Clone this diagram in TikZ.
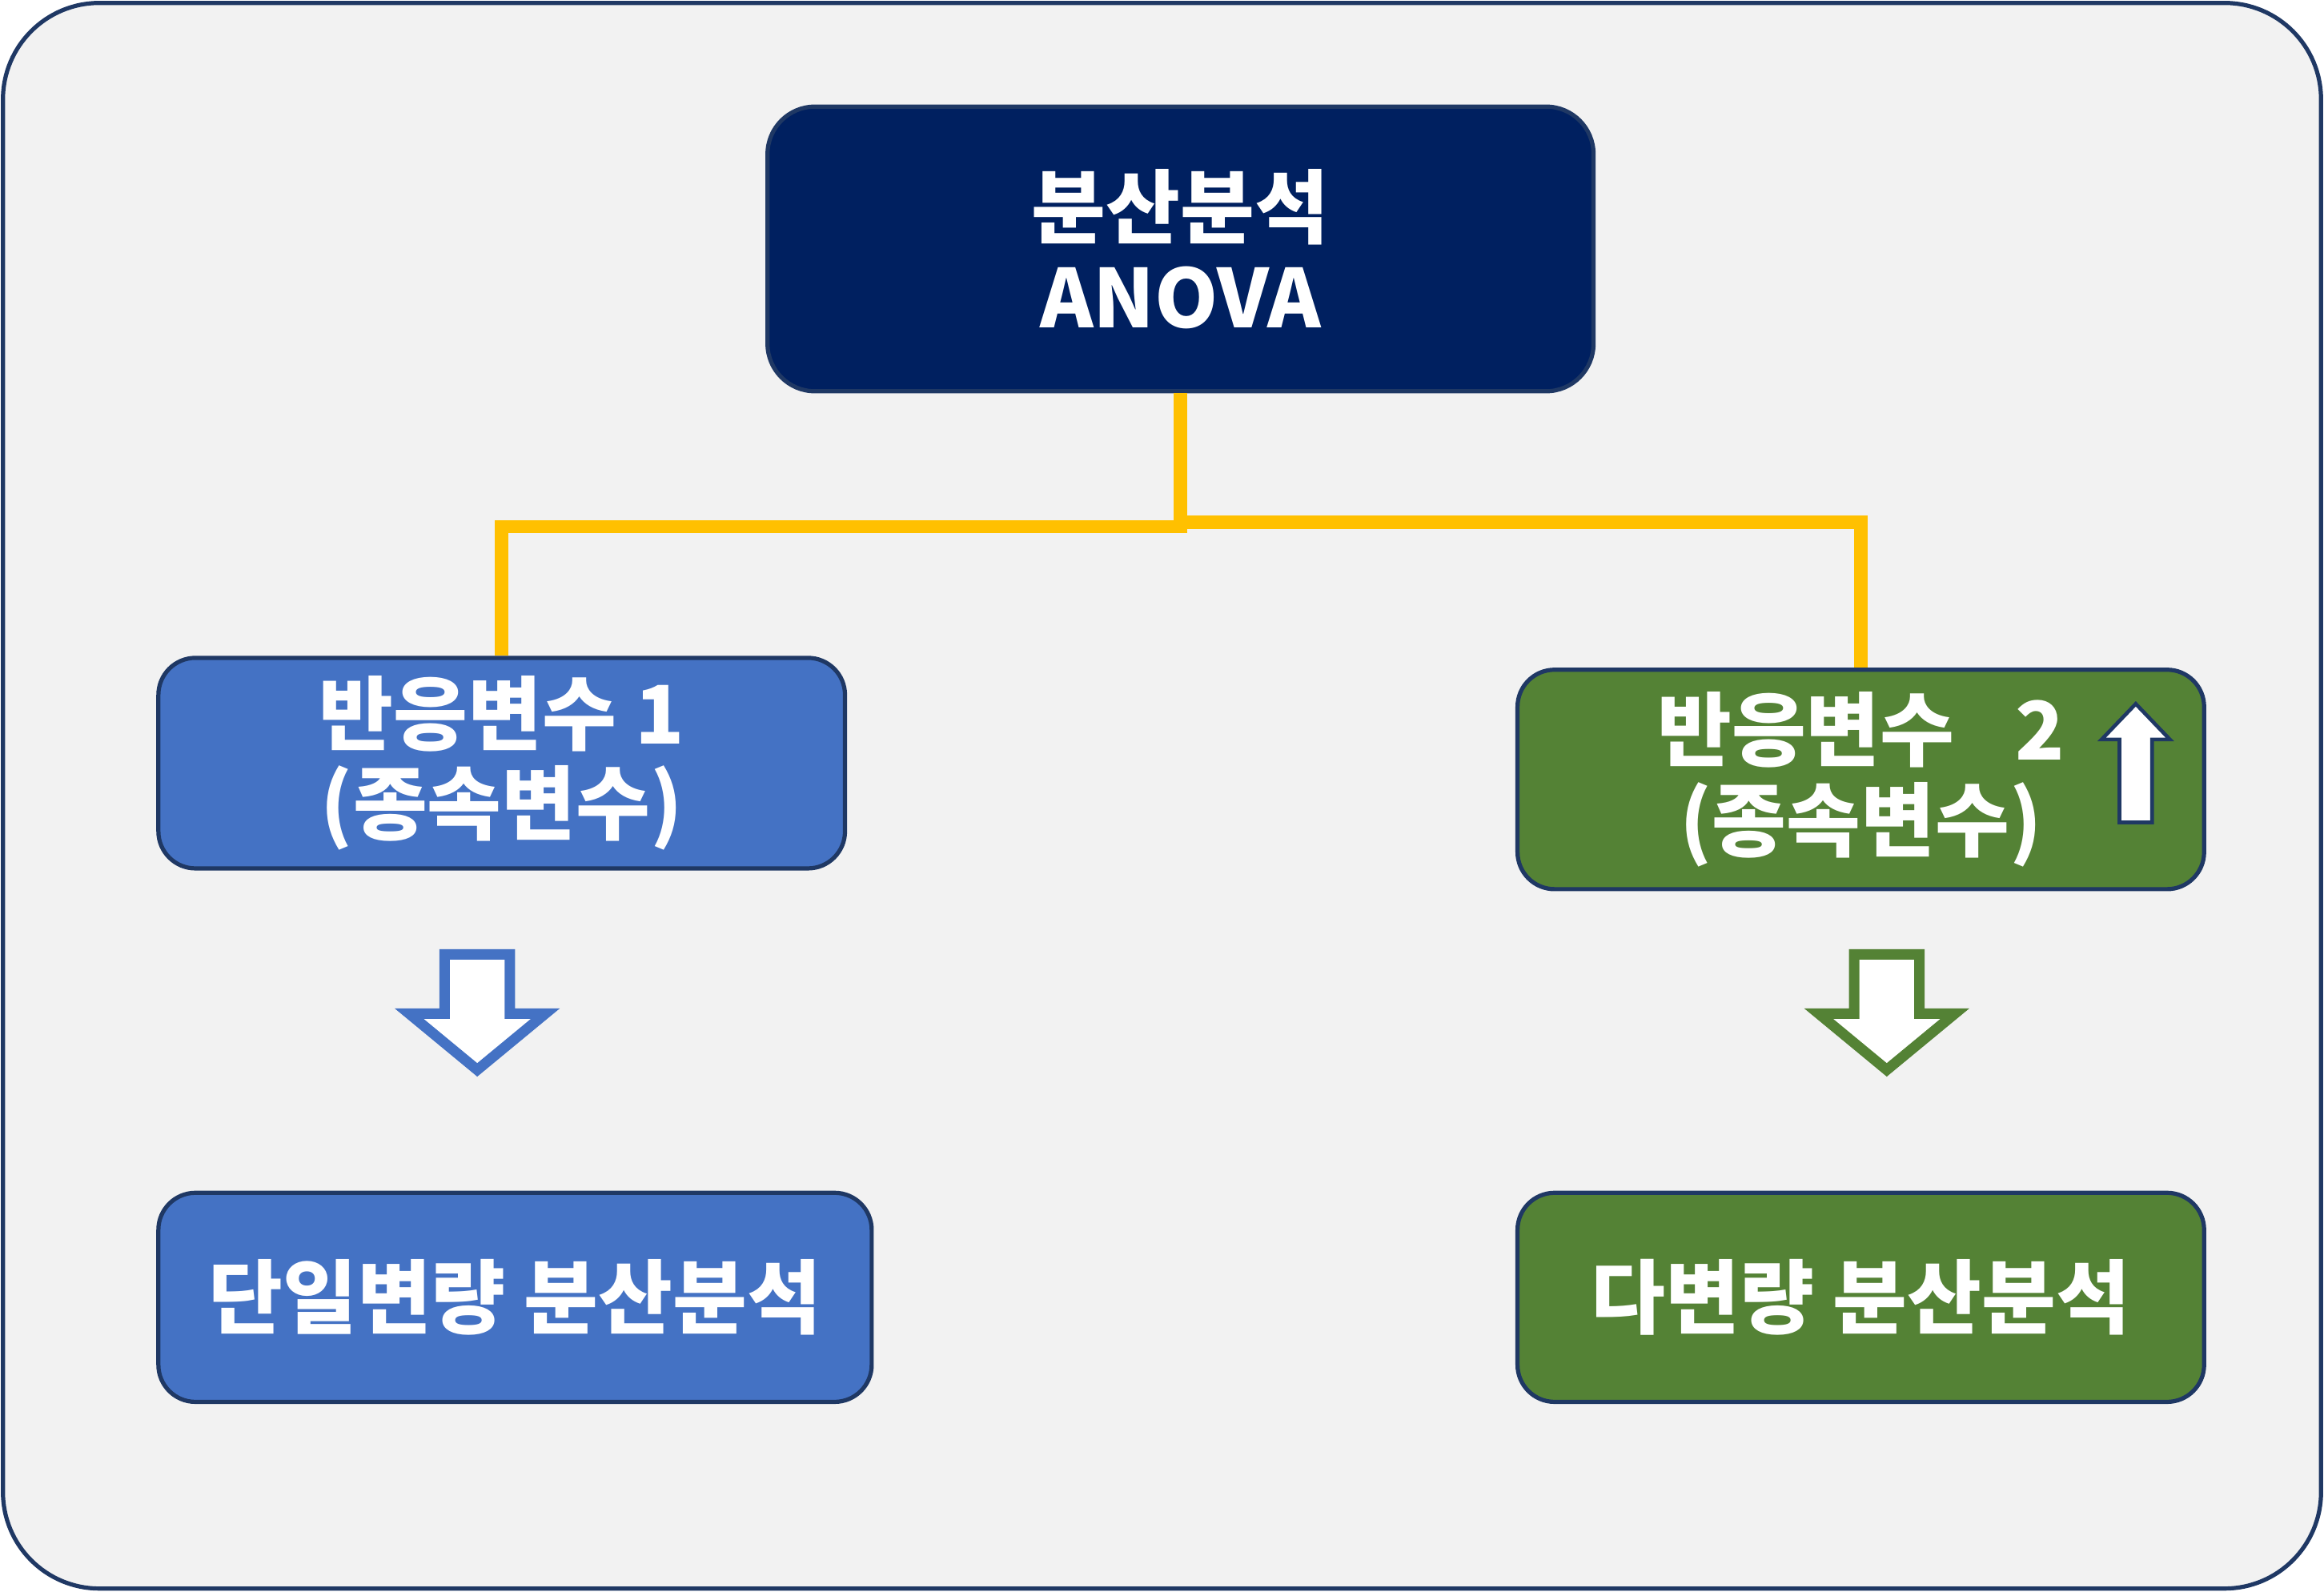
\documentclass[tikz,border=0pt]{standalone}
\usepackage{fontspec}
\usepackage{tikz}
\usetikzlibrary{calc}
\newfontfamily\kr{Noto Sans CJK KR}

\definecolor{navyfill}{HTML}{002060}
\definecolor{edgeblue}{HTML}{1F3864}
\definecolor{boxblue}{HTML}{4472C4}
\definecolor{boxgreen}{HTML}{548235}
\definecolor{lineyellow}{HTML}{FFC000}
\definecolor{bggray}{HTML}{F2F2F2}

\tikzset{
  box/.style={draw=edgeblue,line width=0.8pt,rounded corners=0.25cm,align=center,
    text=white,inner sep=0pt,font=\kr\bfseries\fontsize{15.5}{17.3}\selectfont},
  yline/.style={draw=lineyellow,line width=0.09cm},
  fatarrow/.style={fill=white,line width=0.07cm,line join=miter},
}

\begin{document}
\begin{tikzpicture}[>=latex,x=0.01cm,y=-0.01cm]
        \useasboundingbox (0,0) rectangle (1568,1074);
        \draw[edgeblue,fill=bggray,line width=0.8pt,rounded corners=0.65cm](2,2) rectangle (1566,1072);
        % boxes
        \node[box,fill=navyfill,rounded corners=0.32cm,minimum width=5.57cm,minimum height=1.92cm]
            (anova) at (796.5,168) {분산분석\\ANOVA};
        \node[box,fill=boxblue,minimum width=4.63cm,minimum height=1.42cm]
            (resp1) at (338.5,515) {반응변수 1\\(종속변수)};
        \node[box,fill=boxgreen,minimum width=4.63cm,minimum height=1.48cm]
            (resp2) at (1255.5,526) {반응변수\hspace{0.75em}2\\(종속변수)};
        \node[box,fill=boxblue,minimum width=4.81cm,minimum height=1.41cm]
            (univar) at (347.5,875.5) {단일변량 분산분석};
        \node[box,fill=boxgreen,minimum width=4.63cm,minimum height=1.41cm]
            (multivar) at (1255.5,875.5) {다변량 분산분석};
        % connectors
        \draw[yline](anova.south)--++(0,90)-|(resp1.north);
        \draw[yline](anova.south)--++(0,87)-|(resp2.north);
        % arrows
        \draw[fatarrow,draw=boxblue](300,644)--(344,644)--(344,684)--(368,684)--(322,722)--(276,684)--(300,684)--cycle;
        \draw[fatarrow,draw=boxgreen](1251,644)--(1295,644)--(1295,684)--(1319,684)--(1273,722)--(1227,684)--(1251,684)--cycle;
        \draw[fill=white,draw=edgeblue,line width=0.025cm,line join=miter]
            (1430,555)--(1452,555)--(1452,499)--(1464,499)--(1441,475)--(1418,499)--(1430,499)--cycle;
\end{tikzpicture}
\end{document}
